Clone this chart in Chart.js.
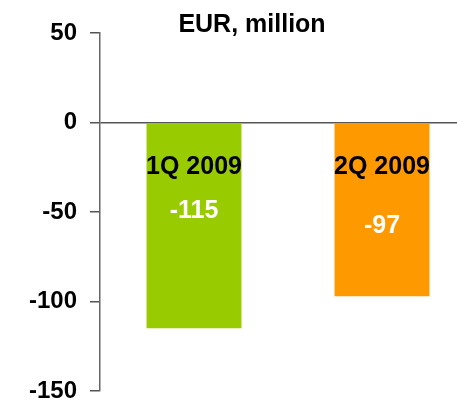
<!DOCTYPE html>
<html>
<head>
<meta charset="utf-8">
<script src="https://cdn.jsdelivr.net/npm/chart.js@4"></script>
<style>
html, body { margin: 0; padding: 0; background: #fff; }
#wrap { width: 457px; height: 402px; overflow: hidden; }
canvas { display: block; }
</style>
</head>
<body>
<div id="wrap"><canvas id="lossChart" width="480" height="402"></canvas></div>
<script>
const quarters = ['1Q 2009', '2Q 2009'];
const results = [-115, -97];
const barColors = ['#99cc00', '#ff9900'];
const yTicks = [50, 0, -50, -100, -150];
const titleText = 'EUR, million';

// where the in-bar labels sit, in axis units
const nameLabelAt = [-25, -25];
const valueLabelAt = [-49.5, -58];

const FONT = '"Liberation Sans", Arial, sans-serif';

const barLabels = {
    id: 'barLabels',
    afterDatasetsDraw(chart) {
        const ctx = chart.ctx;
        const y = chart.scales.y;
        const meta = chart.getDatasetMeta(0);
        ctx.save();
        ctx.textAlign = 'center';
        ctx.textBaseline = 'middle';
        meta.data.forEach((bar, i) => {
            ctx.font = 'bold 25px ' + FONT;
            ctx.fillStyle = '#000';
            ctx.fillText(quarters[i], bar.x, y.getPixelForValue(nameLabelAt[i]));
            ctx.fillStyle = '#fff';
            ctx.fillText(String(results[i]), bar.x, y.getPixelForValue(valueLabelAt[i]));
        });
        // title
        ctx.font = 'bold 25px ' + FONT;
        ctx.fillStyle = '#000';
        ctx.textBaseline = 'alphabetic';
        ctx.fillText(titleText, 252, 32);
        ctx.restore();
    }
};

new Chart(document.getElementById('lossChart'), {
    type: 'bar',
    data: {
        labels: quarters,
        datasets: [{
            data: results,
            backgroundColor: barColors,
            borderWidth: 0,
            categoryPercentage: 1,
            barPercentage: 0.505
        }]
    },
    options: {
        responsive: false,
        animation: false,
        layout: { padding: { top: 33, bottom: 11, left: 0, right: 4 } },
        plugins: {
            legend: { display: false },
            tooltip: { enabled: false }
        },
        scales: {
            x: {
                display: false,
                offset: true,
                grid: { display: false }
            },
            y: {
                min: -150,
                max: 50,
                afterBuildTicks: (scale) => {
                    scale.ticks = yTicks.map(v => ({ value: v }));
                },
                afterFit: (scale) => {
                    scale.width = 100;
                    scale.paddingTop = 0;
                    scale.paddingBottom = 0;
                },
                border: { color: '#666', width: 1.5 },
                grid: {
                    color: (c) => c.tick && c.tick.value === 0 ? '#555' : 'rgba(0,0,0,0)',
                    lineWidth: 1.5,
                    tickColor: '#555',
                    tickLength: 10
                },
                ticks: {
                    color: '#000',
                    padding: 13,
                    font: { family: FONT, size: 24, weight: 'bold' }
                }
            }
        }
    },
    plugins: [barLabels]
});
</script>
</body>
</html>
